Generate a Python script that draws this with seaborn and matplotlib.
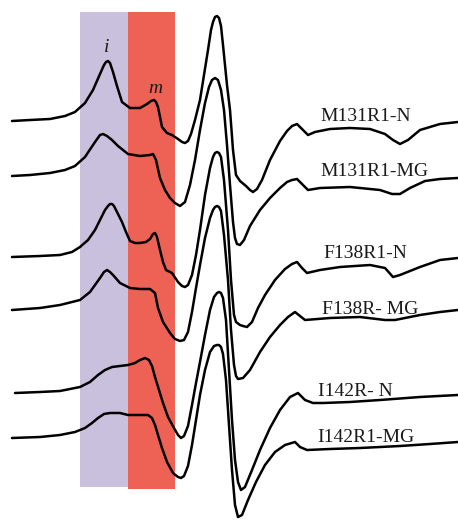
import matplotlib
matplotlib.use("Agg")
import matplotlib.pyplot as plt
import seaborn as sns
import pandas as pd

# ---- data (x: field position, y: drawn signal height, image units) ----
m131_n_x = [12, 30, 50, 65, 75, 85, 93, 100, 104, 106, 108, 110, 113, 117, 122, 130, 140, 147, 151, 154, 156,
            158, 162, 167, 172, 178, 182, 185, 188, 191, 195, 200, 204, 208, 211, 213, 215, 217, 219, 221,
            223, 227, 230, 233, 236, 240, 246, 250, 253, 257, 262, 270, 280, 287, 292, 297, 303, 308, 315,
            330, 350, 370, 385, 393, 400, 408, 420, 440, 458]
m131_n_y = [121, 120, 119, 116, 112, 103, 90, 74, 65, 62, 61, 63, 72, 86, 102, 108, 108, 104, 101, 100, 102,
            107, 127, 133, 135, 139, 142, 143, 141, 134, 120, 100, 75, 50, 30, 22, 17, 16, 18, 26,
            45, 85, 110, 150, 175, 181, 186, 190, 192, 189, 180, 160, 141, 131, 126, 124, 130, 135, 132,
            129, 128, 129, 134, 140, 144, 140, 130, 124, 122]

m131_mg_x = [12, 30, 50, 65, 75, 85, 95, 100, 103, 107, 112, 118, 128, 140, 150, 153, 156, 160, 165, 170,
             175, 180, 185, 190, 195, 200, 205, 209, 212, 215, 218, 221, 224, 227, 230, 233, 235, 237, 240,
             244, 250, 260, 270, 280, 287, 292, 297, 303, 308, 320, 350, 380, 392, 400, 410, 425, 440, 458]
m131_mg_y = [176, 175, 173, 170, 166, 157, 142, 135, 134, 136, 140, 146, 154, 156, 155, 154, 160, 178, 190, 198,
             203, 206, 202, 185, 160, 130, 103, 87, 80, 78, 80, 90, 110, 145, 185, 222, 238, 244, 245,
             240, 226, 210, 198, 188, 182, 180, 179, 185, 190, 188, 187, 190, 194, 194, 188, 181, 179, 178]

f138_n_x = [12, 40, 60, 72, 80, 88, 95, 100, 105, 108, 110, 112, 114, 116, 119, 122, 126, 130, 135, 140, 146,
            150, 153, 155, 157, 160, 163, 166, 172, 178, 182, 185, 188, 192, 196, 200, 205, 210, 213, 215,
            217, 219, 221, 224, 228, 231, 234, 236, 240, 243, 247, 252, 258, 265, 275, 285, 292, 297, 302,
            307, 320, 340, 370, 385, 393, 400, 420, 440, 458]
f138_n_y = [257, 256, 255, 252, 247, 240, 230, 220, 210, 206, 204, 204, 206, 210, 216, 222, 232, 241, 243, 243, 242,
            239, 234, 233, 237, 250, 262, 270, 273, 282, 286, 287, 285, 275, 255, 230, 195, 168, 157, 153,
            152, 153, 157, 180, 230, 280, 315, 322, 325, 326, 327, 322, 308, 295, 280, 269, 264, 262, 268,
            273, 270, 267, 265, 268, 277, 275, 267, 260, 258]

f138_mg_x = [12, 40, 60, 80, 90, 100, 104, 107, 110, 113, 120, 130, 140, 150, 155, 158, 163, 170, 175, 180,
             184, 188, 192, 196, 200, 205, 210, 213, 215, 217, 219, 221, 224, 228, 231, 234, 236, 238, 243,
             250, 260, 270, 280, 288, 295, 300, 305, 330, 360, 385, 395, 420, 440, 458]
f138_mg_y = [310, 308, 305, 300, 292, 278, 272, 270, 272, 275, 283, 288, 289, 289, 293, 308, 322, 333, 339, 341,
             340, 332, 312, 288, 265, 238, 218, 210, 207, 206, 207, 211, 235, 280, 330, 365, 376, 379, 378,
             370, 352, 337, 325, 317, 312, 316, 320, 318, 317, 320, 320, 315, 312, 310]

i142_n_x = [15, 40, 60, 80, 90, 98, 105, 112, 120, 128, 135, 140, 145, 149, 152, 155, 159, 163, 168, 174,
            178, 181, 184, 188, 192, 196, 200, 205, 210, 214, 217, 219, 221, 223, 226, 229, 232, 235, 238,
            241, 245, 252, 260, 270, 280, 290, 298, 305, 313, 323, 350, 380, 420, 458]
i142_n_y = [393, 392, 391, 387, 382, 375, 370, 367, 366, 365, 363, 360, 358, 360, 366, 377, 390, 403, 417, 428,
            435, 438, 436, 426, 405, 383, 362, 335, 310, 297, 293, 292, 293, 298, 320, 370, 420, 460, 482,
            490, 487, 470, 450, 428, 410, 397, 393, 400, 403, 403, 402, 400, 397, 395]

i142_mg_x = [12, 40, 60, 75, 85, 92, 98, 104, 110, 120, 128, 140, 148, 152, 155, 158, 162, 167, 173, 178,
             181, 184, 188, 192, 196, 200, 205, 210, 214, 217, 219, 221, 223, 226, 229, 232, 235, 238, 242,
             248, 256, 265, 275, 285, 295, 300, 307, 330, 360, 400, 430, 458]
i142_mg_y = [438, 437, 435, 432, 428, 423, 418, 414, 413, 413, 415, 415, 415, 418, 425, 435, 448, 462, 473, 477,
             478, 476, 466, 445, 420, 395, 370, 352, 346, 345, 345, 347, 354, 380, 425, 470, 505, 517, 515,
             500, 482, 465, 452, 445, 442, 447, 450, 449, 448, 446, 444, 442]

sample_names = ["M131R1-N", "M131R1-MG", "F138R1-N", "F138R- MG", "I142R- N", "I142R1-MG"]
label_x = [320, 320, 323, 322, 318, 317]
label_y = [121, 176, 258, 314, 396, 442]

band_names = ["i", "m"]
band_left = [80, 128]
band_right = [128, 175]
band_top = [12, 12]
band_bottom = [487, 489]
band_label_x = [107, 155]
band_label_y = [52, 93]

# ---- build tidy table ----
xs = [m131_n_x, m131_mg_x, f138_n_x, f138_mg_x, i142_n_x, i142_mg_x]
ys = [m131_n_y, m131_mg_y, f138_n_y, f138_mg_y, i142_n_y, i142_mg_y]
frames = []
for name, x, y in zip(sample_names, xs, ys):
    frames.append(pd.DataFrame({"x": x, "y": y, "sample": name}))
df = pd.concat(frames, ignore_index=True)

sns.set_theme(style="white")
plt.rcParams['font.family'] = ['Liberation Serif', 'DejaVu Serif']

fig = plt.figure(figsize=(4.58, 5.2), dpi=100)
ax = fig.add_axes([0, 0, 1, 1])

band_colors = ["#c9c0de", "#ee6256"]
for l, r, t, b, c in zip(band_left, band_right, band_top, band_bottom, band_colors):
    ax.fill_between([l, r], [t, t], [b, b], color=c, lw=0, zorder=0)

sns.lineplot(data=df, x="x", y="y", units="sample", estimator=None, sort=False,
             color="black", lw=1.8, ax=ax, legend=False, zorder=2,
             solid_joinstyle="round", solid_capstyle="round")

for name, x, y in zip(sample_names, label_x, label_y):
    ax.text(x, y, name, fontsize=14, color="#1a1a1a", ha="left", va="baseline", zorder=3)

for name, x, y in zip(band_names, band_label_x, band_label_y):
    ax.text(x, y, name, fontsize=14, style="italic", color="#1a1a1a", ha="center", va="baseline", zorder=3)

ax.set_xlim(0, 458)
ax.set_ylim(520, 0)
ax.axis("off")
fig.savefig("out.png", dpi=100, facecolor="white")
